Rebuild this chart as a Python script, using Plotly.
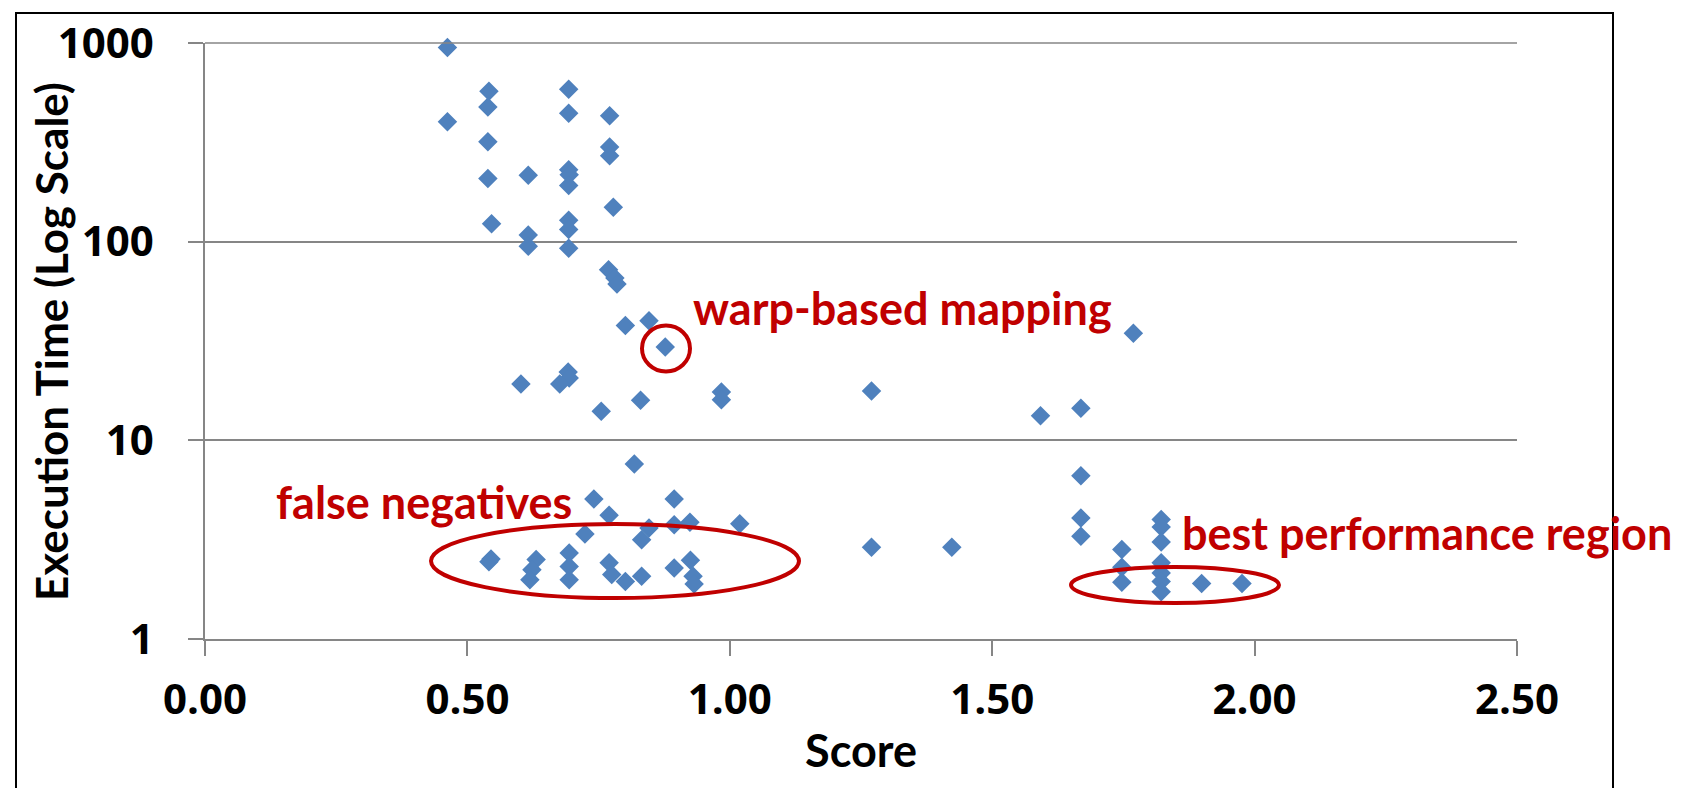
import plotly.graph_objects as go

# ---- data ----
score = [
    0.462, 0.462,
    0.541, 0.539, 0.539, 0.539, 0.546, 0.545, 0.541,
    0.616, 0.616, 0.616, 0.602,
    0.631, 0.623, 0.619,
    0.693, 0.693, 0.693, 0.694, 0.693, 0.693, 0.693, 0.693,
    0.692, 0.694, 0.676,
    0.694, 0.694, 0.694,
    0.724, 0.741,
    0.771, 0.771, 0.771, 0.778, 0.769, 0.781, 0.785,
    0.755, 0.770, 0.770, 0.775,
    0.801, 0.801, 0.818,
    0.830, 0.832, 0.832, 0.846, 0.846, 0.877,
    0.894, 0.894, 0.894, 0.924, 0.925, 0.930, 0.932,
    0.984, 0.984, 1.019,
    1.270, 1.270, 1.423,
    1.592, 1.669, 1.669, 1.669, 1.669,
    1.747, 1.747, 1.747, 1.769,
    1.822, 1.822, 1.822, 1.822, 1.822, 1.822, 1.822,
    1.899, 1.976,
]
exec_time = [
    950, 402,
    571, 476, 318, 208, 123, 2.53, 2.45,
    216, 108, 94.8, 19.2,
    2.51, 2.23, 1.99,
    585, 443, 230, 217, 192, 128, 115, 92.7,
    22.1, 20.6, 19.2,
    2.71, 2.32, 1.99,
    3.38, 5.06,
    430, 300, 271, 149, 72.3, 65.6, 61.2,
    14.0, 4.20, 2.42, 2.11,
    37.8, 1.95, 7.6,
    15.9, 3.16, 2.07, 40.0, 3.62, 29.5,
    5.06, 3.76, 2.28, 3.87, 2.49, 2.07, 1.89,
    17.5, 16.0, 3.80,
    17.7, 2.90, 2.90,
    13.3, 14.5, 6.63, 4.06, 3.29,
    2.82, 2.30, 1.93, 34.6,
    3.99, 3.66, 3.08, 2.42, 2.15, 1.95, 1.73,
    1.90, 1.90,
]

x_tick_vals = [0.0, 0.5, 1.0, 1.5, 2.0, 2.5]
x_tick_text = ["0.00", "0.50", "1.00", "1.50", "2.00", "2.50"]
y_tick_vals = [1, 10, 100, 1000]
y_tick_text = ["1", "10", "100", "1000"]

x_title = "Score"
y_title = "Execution Time (Log Scale)"
notes = ["warp-based mapping", "false negatives", "best performance region"]

# ---- layout helpers (pixel -> paper) ----
W, H = 1684, 788
L, R, T, B = 197, 175, 35, 157
PW, PH = W - L - R, H - T - B


def px(x):
    return (x - L) / PW


def py(y):
    return (H - B - y) / PH


FONT = "Lato, 'Open Sans', sans-serif"
TICK_FONT = "'Open Sans', Lato, sans-serif"
RED = "#C00000"
GRAY = "#868686"
FS_TICK = 42
FS = 45
FS_YTITLE = 44

fig = go.Figure()
fig.add_trace(go.Scatter(
    x=score, y=exec_time, mode="markers",
    marker=dict(symbol="diamond", size=15, color="#4F81BD", line=dict(width=0)),
    showlegend=False, cliponaxis=False,
))

fig.update_layout(
    width=W, height=H,
    margin=dict(l=L, r=R, t=T, b=B, autoexpand=False),
    paper_bgcolor="white", plot_bgcolor="white",
    font=dict(family=FONT, color="black"),
    xaxis=dict(
        range=[0, 2.5], tickvals=x_tick_vals, ticktext=x_tick_text,
        ticks="outside", ticklen=15, tickwidth=1.5, tickcolor=GRAY,
        showline=True, linecolor=GRAY, linewidth=1.5,
        showgrid=False, zeroline=False,
        tickfont=dict(size=FS_TICK, weight="bold", family=TICK_FONT),
        ticklabelstandoff=8,
        title=dict(text=x_title, font=dict(size=FS, weight="bold", family=FONT), standoff=10),
    ),
    yaxis=dict(
        type="log", range=[0, 3], tickvals=y_tick_vals, ticktext=y_tick_text,
        ticks="outside", ticklen=15, tickwidth=1.5, tickcolor=GRAY,
        showline=True, linecolor=GRAY, linewidth=1.5,
        showgrid=True, gridcolor=GRAY, gridwidth=1.5, zeroline=False,
        tickfont=dict(size=FS_TICK, weight="bold", family=TICK_FONT),
        ticklabelstandoff=26,
    ),
)

shapes = [
    # outer chart border
    dict(type="rect", xref="paper", yref="paper",
         x0=px(8), x1=px(1605), y0=py(800), y1=py(5),
         line=dict(color="black", width=2)),
    # top gridline (at 1000, on the plot's upper edge)
    dict(type="line", xref="paper", yref="paper",
         x0=0, x1=1, y0=1, y1=1,
         line=dict(color=GRAY, width=1.5)),
    # circle around the warp-based point
    dict(type="circle", xref="paper", yref="paper",
         x0=px(634), x1=px(682), y0=py(363.5), y1=py(317.5),
         line=dict(color=RED, width=4)),
    # false negatives ellipse
    dict(type="circle", xref="paper", yref="paper",
         x0=px(423), x1=px(791), y0=py(590), y1=py(516),
         line=dict(color=RED, width=4)),
    # best performance ellipse
    dict(type="circle", xref="paper", yref="paper",
         x0=px(1063), x1=px(1271), y0=py(595), y1=py(559),
         line=dict(color=RED, width=4)),
]
fig.update_layout(shapes=shapes)

# y-axis title
fig.add_annotation(
    xref="paper", yref="paper", x=px(43), y=py(334),
    xanchor="center", yanchor="middle", showarrow=False, textangle=-90,
    text=y_title, font=dict(size=FS_YTITLE, color="black", weight="bold", family=FONT),
)

note_pos = [(683, 300), (266, 494), (1172, 525)]
for text, (x, y) in zip(notes, note_pos):
    fig.add_annotation(
        xref="paper", yref="paper", x=px(x), y=py(y),
        xanchor="left", yanchor="middle", showarrow=False,
        text=text, font=dict(size=FS, color=RED, weight="bold", family=FONT),
    )

fig.write_html("out.html")
